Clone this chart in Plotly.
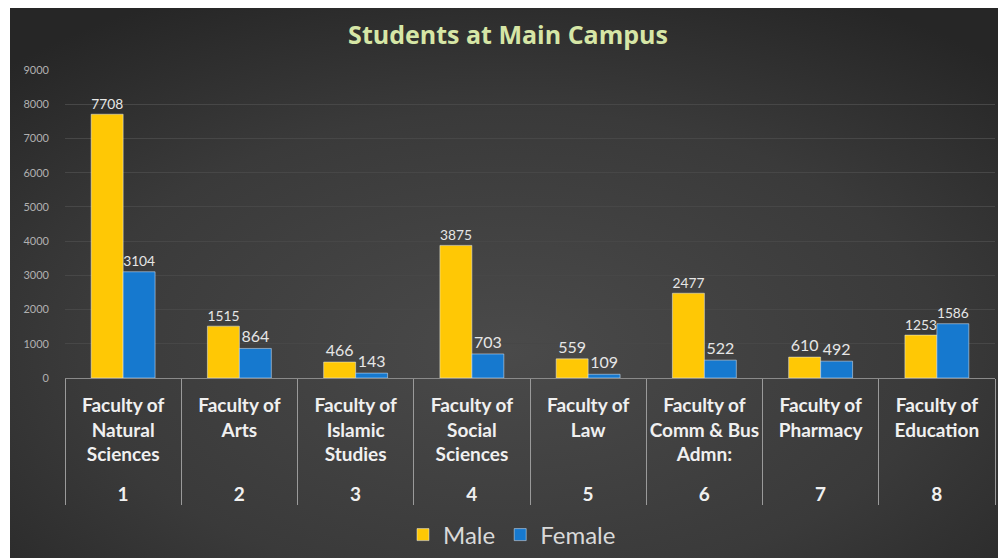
import base64
import plotly.graph_objects as go

# ---- data ----
group_numbers = ["<b>1</b>", "<b>2</b>", "<b>3</b>", "<b>4</b>", "<b>5</b>", "<b>6</b>", "<b>7</b>", "<b>8</b>"]
faculties = [
    "Faculty of<br>Natural<br>Sciences<br> ",
    "Faculty of<br>Arts<br> <br> ",
    "Faculty of<br>Islamic<br>Studies<br> ",
    "Faculty of<br>Social<br>Sciences<br> ",
    "Faculty of<br>Law<br> <br> ",
    "Faculty of<br>Comm & Bus<br>Admn:<br> ",
    "Faculty of<br>Pharmacy<br> <br> ",
    "Faculty of<br>Education<br> <br> ",
]
male = [7708, 1515, 466, 3875, 559, 2477, 610, 1253]
female = [3104, 864, 143, 703, 109, 522, 492, 1586]
y_ticks = [0, 1000, 2000, 3000, 4000, 5000, 6000, 7000, 8000, 9000]

MALE_COLOR = "#FFC805"
FEMALE_COLOR = "#1679CF"
LABEL_FONT = "Lato"

# background gradient (styling only)
svg = (
    '<svg xmlns="http://www.w3.org/2000/svg" width="1000" height="560" preserveAspectRatio="none">'
    '<defs><radialGradient id="g" cx="50%" cy="62%" r="72%">'
    '<stop offset="0%" stop-color="#4a4a4a"/>'
    '<stop offset="60%" stop-color="#3a3a3a"/>'
    '<stop offset="100%" stop-color="#262626"/>'
    '</radialGradient></defs>'
    '<rect width="1000" height="560" fill="url(#g)"/></svg>'
)
bg_uri = "data:image/svg+xml;base64," + base64.b64encode(svg.encode()).decode()

x_cats = [group_numbers, faculties]

fig = go.Figure()
fig.add_trace(go.Bar(
    name="Male", x=x_cats, y=male, marker_color=MALE_COLOR,
    text=[str(v) for v in male], textposition="outside", cliponaxis=False,
    textfont=dict(color="#e6e6e6", size=16, family=LABEL_FONT),
))
fig.add_trace(go.Bar(
    name="Female", x=x_cats, y=female, marker_color=FEMALE_COLOR,
    text=[str(v) for v in female], textposition="outside", cliponaxis=False,
    textfont=dict(color="#e6e6e6", size=16, family=LABEL_FONT),
))

# page has an 8px body margin: figure coords = screen - 8
OFF = 8
W, H = 998, 550
L, R, T, B = 65 - OFF, 11, 70 - OFF, 180
pw, ph = W - L - R, H - T - B

def sx(px):
    return (px - OFF - L) / pw

def sy(py):
    return (H - B - (py - OFF)) / ph

fig.add_layout_image(dict(
    source=bg_uri, xref="paper", yref="paper",
    x=sx(10), y=sy(8),
    sizex=(W - 2) / pw, sizey=H / ph,
    xanchor="left", yanchor="top", sizing="stretch", layer="below",
))

fig.update_layout(
    width=W, height=H,
    margin=dict(l=L, r=R, t=T, b=B, autoexpand=False),
    paper_bgcolor="white",
    plot_bgcolor="rgba(0,0,0,0)",
    barmode="group", bargap=0.45, bargroupgap=0,
    title=dict(
        text="<b>Students at Main Campus</b>",
        x=sx(508), xanchor="center", xref="paper",
        y=1 - (35 - OFF) / H, yanchor="middle",
        font=dict(family="Open Sans", size=25, color="#d6e6a6"),
    ),
    legend=dict(
        orientation="h", x=sx(512), xanchor="center", y=sy(535), yanchor="middle",
        font=dict(family=LABEL_FONT, size=24, color="#d9d9d9"),
        bgcolor="rgba(0,0,0,0)", traceorder="normal",
    ),
    yaxis=dict(
        range=[0, 9000], tickvals=y_ticks, ticktext=[str(v) for v in y_ticks],
        showgrid=True, gridcolor="#474747", gridwidth=1, zeroline=False,
        tickfont=dict(family=LABEL_FONT, size=11, color="#b0b0b0"),
        ticks="", ticklabelstandoff=15,
    ),
    xaxis=dict(
        type="multicategory", showline=True, linecolor="#8a8a8a", linewidth=1,
        showdividers=True, dividercolor="#9a9a9a", dividerwidth=1,
        tickfont=dict(family=LABEL_FONT, size=19, color="#f0f0f0", weight="bold"),
        ticks="", tickangle=0, ticklabelstandoff=10,
    ),
)

fig.write_html("out.html")
